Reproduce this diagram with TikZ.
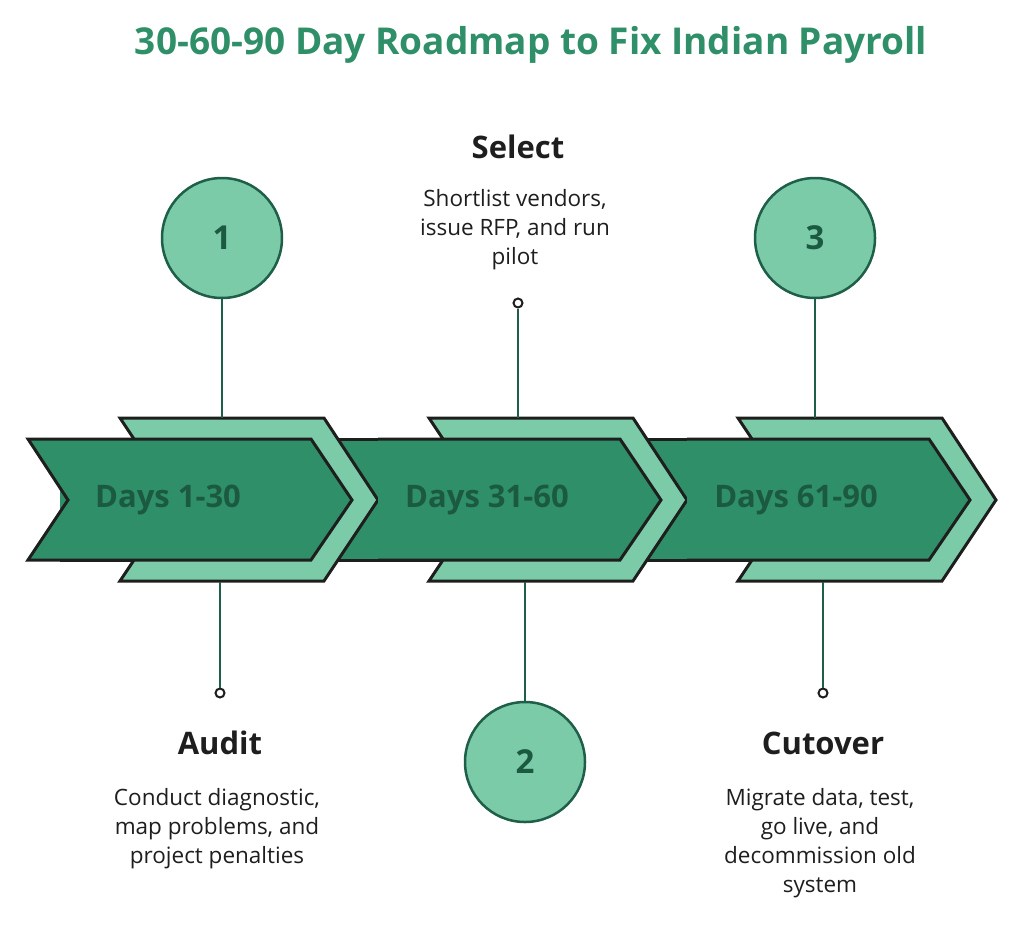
\documentclass[tikz,border=0pt]{standalone}
\usepackage{fontspec}
\setmainfont{Open Sans}
\definecolor{dg}{HTML}{2E8F68}
\definecolor{lg}{HTML}{7BCBA9}
\definecolor{tx}{HTML}{1B5A40}
\definecolor{ln}{HTML}{1F5E48}
\definecolor{ol}{HTML}{1E1E1E}
\begin{document}
\begin{tikzpicture}[x=1pt,y=-1pt,
  dk/.style={fill=dg,draw=ol,line width=3pt,line join=miter},
  lt/.style={fill=lg,draw=ol,line width=3pt,line join=miter},
  circ/.style={circle,fill=lg,draw=ln,line width=2.5pt,minimum size=120pt,inner sep=0pt,font=\fontsize{33}{40}\selectfont\bfseries,text=tx},
  stem/.style={draw=ln,line width=2.5pt},
  dot/.style={circle,draw=ol,fill=white,line width=2pt,minimum size=9pt,inner sep=0pt},
  head/.style={font=\fontsize{31}{36}\selectfont\bfseries,text=ol},
  body/.style={font=\fontsize{22.5}{29}\selectfont,text=ol,align=center},
  days/.style={font=\fontsize{31}{36}\selectfont\bfseries,text=tx}]
\useasboundingbox (0,0) rectangle (1024,929);
\node[font=\fontsize{37}{44}\selectfont\bfseries,text=dg] (title) at (531,45) {30-60-90 Day Roadmap to Fix Indian Payroll};
% band
\fill[dg] (60,439) rectangle (935,560);
\draw[ol,line width=3pt] (60,439) -- (935,439) (60,560) -- (935,560);
\draw[lt] (120,418) -- (324,418) -- (378,500) -- (324,581) -- (120,581) -- (134,560) -- (134,439) -- cycle;
\draw[dk] (28,439) -- (311,439) -- (352,500) -- (311,560) -- (28,560) -- (68,500) -- cycle;
\foreach \i in {1,2}{
  \pgfmathsetmacro{\o}{309*\i}
  \draw[lt] (120+\o,418) -- (324+\o,418) -- (378+\o,500) -- (324+\o,581) -- (120+\o,581) -- (134+\o,560) -- (134+\o,439) -- cycle;
  \fill[dg] (69+\o,439) -- (311+\o,439) -- (352+\o,500) -- (311+\o,560) -- (69+\o,560) -- cycle;
  \draw[ol,line width=3pt,line join=miter] (69+\o,439) -- (311+\o,439) -- (352+\o,500) -- (311+\o,560) -- (69+\o,560);
}
\node[days] (d1) at (168,500) {Days 1-30};
\node[days] (d2) at (487,500) {Days 31-60};
\node[days] (d3) at (796,500) {Days 61-90};
\coordinate (t1) at (222,418); \coordinate (t2) at (518,418); \coordinate (t3) at (815,418);
\coordinate (b1) at (220,582); \coordinate (b2) at (525,582); \coordinate (b3) at (823,582);
\node[circ] (c1) at (222,238) {1};
\node[circ] (c3) at (815,238) {3};
\node[circ] (c2) at (525,762) {2};
\node[dot] (p2) at (518,303) {};
\node[dot] (p1) at (220,693) {};
\node[dot] (p3) at (823,693) {};
\draw[stem] (c1) -- (t1); \draw[stem] (p2) -- (t2); \draw[stem] (c3) -- (t3);
\draw[stem] (b1) -- (p1); \draw[stem] (b2) -- (c2); \draw[stem] (b3) -- (p3);
\node[head] (h2) at (518,147) {Select};
\node[body] (s2) at (515,230) {Shortlist vendors,\\issue RFP, and run\\pilot};
\node[head] (h1) at (220,743) {Audit};
\node[body] (s1) at (217,829) {Conduct diagnostic,\\map problems, and\\project penalties};
\node[head] (h3) at (823,743) {Cutover};
\node[body] (s3) at (820,843) {Migrate data, test,\\go live, and\\decommission old\\system};
\end{tikzpicture}
\end{document}
